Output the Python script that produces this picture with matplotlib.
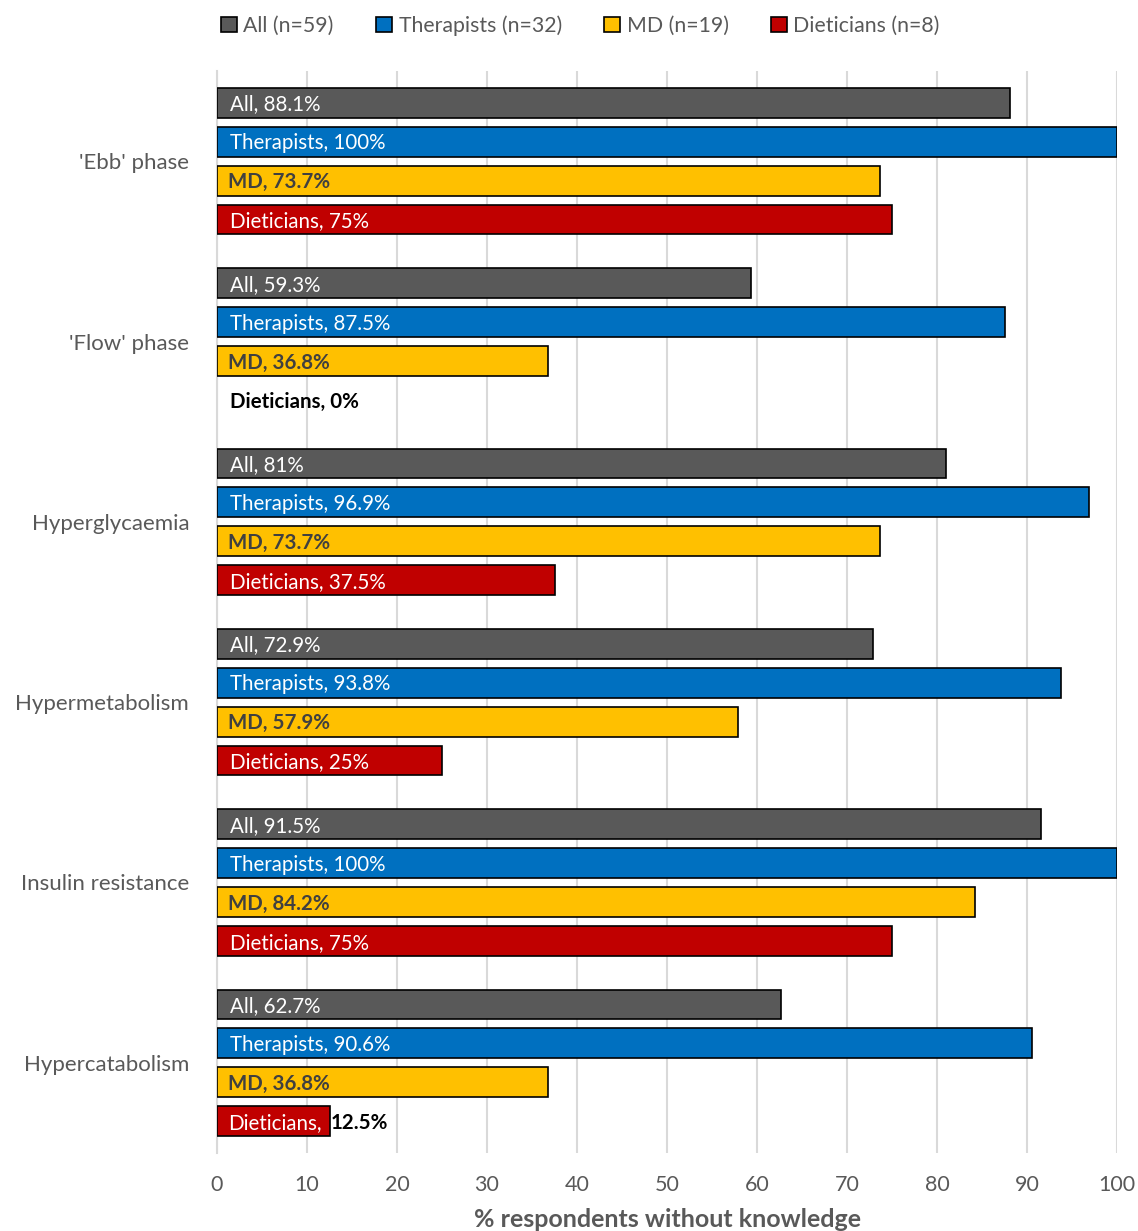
import numpy as np
import matplotlib.pyplot as plt

plt.rcParams['font.family'] = ['Lato', 'DejaVu Sans']

categories = ["'Ebb' phase", "'Flow' phase", "Hyperglycaemia", "Hypermetabolism",
              "Insulin resistance", "Hypercatabolism"]
groups = ["All", "Therapists", "MD", "Dieticians"]
legend_labels = ["All (n=59)", "Therapists (n=32)", "MD (n=19)", "Dieticians (n=8)"]
all_vals = [88.1, 59.3, 81, 72.9, 91.5, 62.7]
ther_vals = [100, 87.5, 96.9, 93.8, 100, 90.6]
md_vals = [73.7, 36.8, 73.7, 57.9, 84.2, 36.8]
diet_vals = [75, 0, 37.5, 25, 75, 12.5]
xticks = [0, 10, 20, 30, 40, 50, 60, 70, 80, 90, 100]

colors = ["#595959", "#0070C0", "#FFC000", "#C00000"]
series = [all_vals, ther_vals, md_vals, diet_vals]
grey = "#595959"

fig = plt.figure(figsize=(11.38, 12.31), dpi=100)
ax = fig.add_axes([217/1138, 78/1231, 900/1138, 1082/1231])

y = np.arange(len(categories))
h = 0.165
s = 0.216
offs = [-1.5, -0.5, 0.5, 1.5]
fs = 14.8

def fmt(v):
    return ("%g" % v) + "%"

# bars + labels inside them
for k in range(4):
    ypos = y + offs[k]*s
    bars = ax.barh(ypos, series[k], height=h, color=colors[k], edgecolor="black",
                   linewidth=1.2, label=legend_labels[k], zorder=3)
    for b, v in zip(bars, series[k]):
        if v == 0:
            b.set_linewidth(0)
    for i, v in enumerate(series[k]):
        txt = groups[k] + ", " + fmt(v)
        ty = ypos[i] + 0.01
        if k == 2:
            ax.text(1.2, ty, txt, color="#404040", fontweight="bold",
                    fontsize=fs, va="center", ha="left", zorder=4)
        elif k == 3 and v == 0:
            ax.text(1.45, ty, txt, color="black", fontweight="bold",
                    fontsize=fs, va="center", ha="left", zorder=4)
        elif k == 3 and v < 15:
            ax.text(1.2, ty, groups[k] + ",", color="white",
                    fontsize=fs, va="center", ha="left", zorder=4)
            ax.text(v + 0.1, ty, fmt(v), color="black", fontweight="bold",
                    fontsize=fs, va="center", ha="left", zorder=4)
        else:
            ax.text(1.45, ty, txt, color="white",
                    fontsize=fs, va="center", ha="left", zorder=4)

ax.set_ylim(len(categories) - 0.5, -0.5)
ax.set_xlim(0, 100)
ax.set_yticks(y)
ax.set_yticklabels(categories, fontsize=16, color=grey)
ax.set_xticks(xticks)
ax.set_xticklabels([str(t) for t in xticks], fontsize=15.5, color=grey)
ax.tick_params(axis="y", length=0, pad=20)
ax.tick_params(axis="x", length=0, pad=16)
ax.grid(axis="x", color="#D9D9D9", linewidth=1.5, zorder=0)
for sp in ["top", "right", "bottom"]:
    ax.spines[sp].set_visible(False)
ax.spines["left"].set_color("#D9D9D9")
ax.spines["left"].set_linewidth(1.5)
ax.set_xlabel("% respondents without knowledge", fontsize=18, fontweight="bold",
              color=grey, labelpad=9)

fig.legend(loc="upper center", bbox_to_anchor=(0.51, 1.003), ncol=4, frameon=False,
           fontsize=15.3, handlelength=0.75, handleheight=0.75, handletextpad=0.3,
           columnspacing=2.0, labelcolor=grey)

fig.savefig("out.png", dpi=100)
